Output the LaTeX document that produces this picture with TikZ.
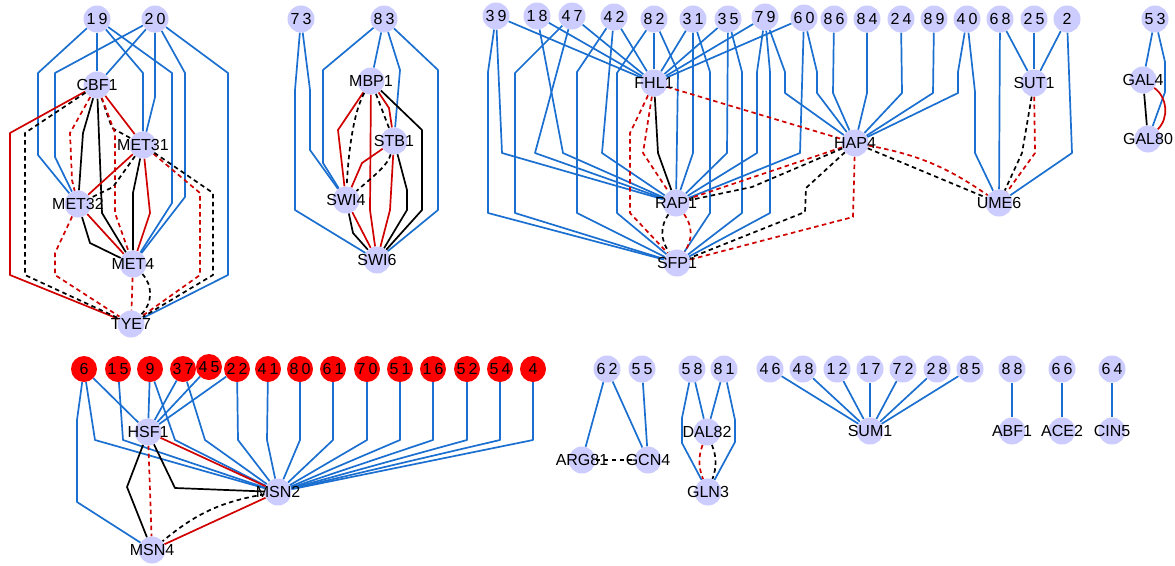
\documentclass[tikz,border=0pt]{standalone}
\usepackage{fontspec}
\setmainfont{Liberation Sans}
\newfontfamily\numfont[LetterSpace=20]{Liberation Sans}
\newcommand\nlab[1]{\makebox[0pt]{#1}}
\pgfdeclarelayer{edges}
\pgfsetlayers{edges,main}
\definecolor{lav}{HTML}{CCCCFF}
\definecolor{rnode}{HTML}{FF0000}
\definecolor{eblue}{HTML}{1A6FD0}
\definecolor{ered}{HTML}{D00000}
\tikzset{
  tf/.style={circle, fill=lav, minimum size=27pt, inner sep=0pt, font=\fontsize{16}{16}\selectfont},
  num/.style={tf, font=\numfont\fontsize{16}{16}\selectfont},
  rnum/.style={num, fill=rnode, minimum size=26pt},
  eb/.style={draw=eblue, line width=1.7pt, line join=round},
  er/.style={draw=ered, line width=1.7pt, line join=round},
  ek/.style={draw=black, line width=1.7pt, line join=round},
  erd/.style={er, dash pattern=on 4.5pt off 3.5pt},
  ekd/.style={ek, dash pattern=on 4.5pt off 3.5pt}
}
\begin{document}
\begin{tikzpicture}[x=1pt,y=-1pt]
\useasboundingbox (0,0) rectangle (1175,565);
% ---------- nodes ----------
\node[num] (n19) at (97,19) {\nlab{19}};
\node[num] (n20) at (155,19) {\nlab{20}};
\node[tf] (CBF1) at (97,85) {\nlab{CBF1}};
\node[tf] (MET31) at (143,145) {\nlab{MET31}};
\node[tf] (MET32) at (78,204) {\nlab{MET32}};
\node[tf] (MET4) at (133,264) {\nlab{MET4}};
\node[tf] (TYE7) at (131,324) {\nlab{TYE7}};
\node[num] (n73) at (301,19) {\nlab{73}};
\node[num] (n83) at (384,19) {\nlab{83}};
\node[tf] (MBP1) at (371,81) {\nlab{MBP1}};
\node[tf] (STB1) at (394,141) {\nlab{STB1}};
\node[tf] (SWI4) at (346,200) {\nlab{SWI4}};
\node[tf] (SWI6) at (377,260) {\nlab{SWI6}};
\node[num] (n39) at (496,16) {\nlab{39}};
\node[num] (n18) at (537,16) {\nlab{18}};
\node[num] (n47) at (572,16) {\nlab{47}};
\node[num] (n42) at (614,17) {\nlab{42}};
\node[num] (n82) at (654,19) {\nlab{82}};
\node[num] (n31) at (693,19) {\nlab{31}};
\node[num] (n35) at (728,19) {\nlab{35}};
\node[num] (n79) at (765,17) {\nlab{79}};
\node[num] (n60) at (804,18) {\nlab{60}};
\node[num] (n86) at (834,19) {\nlab{86}};
\node[num] (n84) at (867,19) {\nlab{84}};
\node[num] (n24) at (901,19) {\nlab{24}};
\node[num] (n89) at (934,19) {\nlab{89}};
\node[num] (n40) at (967,19) {\nlab{40}};
\node[num] (n68) at (1000,19) {\nlab{68}};
\node[num] (n25) at (1034,19) {\nlab{25}};
\node[num] (n2) at (1067,19) {\nlab{2}};
\node[num] (n53) at (1155,19) {\nlab{53}};
\node[tf] (FHL1) at (654,83) {\nlab{FHL1}};
\node[tf] (HAP4) at (855,143) {\nlab{HAP4}};
\node[tf] (RAP1) at (676,203) {\nlab{RAP1}};
\node[tf] (SFP1) at (677,263) {\nlab{SFP1}};
\node[tf] (SUT1) at (1034,83) {\nlab{SUT1}};
\node[tf] (UME6) at (999,203) {\nlab{UME6}};
\node[tf] (GAL4) at (1143,80) {\nlab{GAL4}};
\node[tf] (GAL80) at (1148,139) {\nlab{GAL80}};
% bottom
\node[rnum] (n6) at (84,369) {\nlab{6}};
\node[rnum] (n15) at (118,369) {\nlab{15}};
\node[rnum] (n9) at (150,369) {\nlab{9}};
\node[rnum] (n37) at (183,369) {\nlab{37}};
\node[rnum] (n45) at (209,367) {\nlab{45}};
\node[rnum] (n22) at (237,369) {\nlab{22}};
\node[rnum] (n41) at (268,369) {\nlab{41}};
\node[rnum] (n80) at (300,369) {\nlab{80}};
\node[rnum] (n61) at (333,369) {\nlab{61}};
\node[rnum] (n70) at (367,369) {\nlab{70}};
\node[rnum] (n51) at (400,369) {\nlab{51}};
\node[rnum] (n16) at (433,369) {\nlab{16}};
\node[rnum] (n52) at (467,369) {\nlab{52}};
\node[rnum] (n54) at (500,369) {\nlab{54}};
\node[rnum] (n4) at (533,369) {\nlab{4}};
\node[tf] (HSF1) at (148,432) {\nlab{HSF1}};
\node[tf] (MSN2) at (278,492) {\nlab{MSN2}};
\node[tf] (MSN4) at (152,550) {\nlab{MSN4}};
\node[num] (n62) at (607,369) {\nlab{62}};
\node[num] (n55) at (642,369) {\nlab{55}};
\node[num] (n58) at (692,369) {\nlab{58}};
\node[num] (n81) at (724,369) {\nlab{81}};
\node[tf] (DAL82) at (707,432) {\nlab{DAL82}};
\node[tf] (ARG81) at (582,460) {\nlab{ARG81}};
\node[tf] (GCN4) at (648,460) {\nlab{GCN4}};
\node[tf] (GLN3) at (708,492) {\nlab{GLN3}};
\node[num] (n46) at (770,369) {\nlab{46}};
\node[num] (n48) at (803,369) {\nlab{48}};
\node[num] (n12) at (837,369) {\nlab{12}};
\node[num] (n17) at (870,369) {\nlab{17}};
\node[num] (n72) at (903,369) {\nlab{72}};
\node[num] (n28) at (937,369) {\nlab{28}};
\node[num] (n85) at (970,369) {\nlab{85}};
\node[tf] (SUM1) at (870,431) {\nlab{SUM1}};
\node[num] (n88) at (1012,369) {\nlab{88}};
\node[tf] (ABF1) at (1012,431) {\nlab{ABF1}};
\node[num] (n66) at (1062,369) {\nlab{66}};
\node[tf] (ACE2) at (1062,431) {\nlab{ACE2}};
\node[num] (n64) at (1112,369) {\nlab{64}};
\node[tf] (CIN5) at (1112,431) {\nlab{CIN5}};
% ---------- edges ----------
\begin{pgfonlayer}{edges}
% left cluster
\draw[eb] (n19) -- (CBF1);
\draw[eb] (n19) -- (38,73) -- (38,155) -- (MET32);
\draw[eb] (n19) -- (143,73) -- (MET31);
\draw[eb] (n19) -- (172,73) -- (172,203) -- (MET4);
\draw[eb] (n20) -- (CBF1);
\draw[eb] (n20) -- (55,73) -- (55,157) -- (MET32);
\draw[eb] (n20) -- (155,97) -- (MET31);
\draw[eb] (n20) -- (185,73) -- (185,197) -- (MET4);
\draw[eb] (n20) -- (228,73) -- (228,275) -- (TYE7);
\draw[er] (CBF1) -- (10,133) -- (10,275) -- (TYE7);
\draw[ekd] (CBF1) -- (25,133) -- (25,275) -- (TYE7);
\draw[erd] (CBF1) -- (70,133) -- (72,180) -- (MET32);
\draw[ek] (CBF1) -- (83,133) -- (MET32);
\draw[ek] (CBF1) -- (102,213) -- (MET4);
\draw[er] (CBF1) -- (MET31);
\draw[ekd] (CBF1) -- (112,128) -- (MET31);
\draw[erd] (CBF1) -- (115,133) -- (115,213) -- (MET4);
\draw[er] (MET31) -- (MET32);
\draw[ekd] (MET31) -- (113,187) -- (MET32);
\draw[ek] (MET31) -- (133,193) -- (MET4);
\draw[er] (MET31) -- (150,213) -- (MET4);
\draw[erd] (MET31) -- (200,193) -- (200,275) -- (TYE7);
\draw[ekd] (MET31) -- (213,193) -- (213,275) -- (TYE7);
\draw[erd] (MET32) -- (55,253) -- (55,275) -- (TYE7);
\draw[ek] (MET32) -- (90,243) -- (MET4);
\draw[er] (MET32) -- (MET4);
\draw[erd] (MET4) -- (TYE7);
\draw[ekd] (MET4) to[bend left=45] (TYE7);
% middle cluster
\draw[eb] (n73) -- (310,90) -- (310,150) -- (SWI4);
\draw[eb] (n73) -- (295,90) -- (295,210) -- (SWI6);
\draw[eb] (n83) -- (323,70) -- (323,163) -- (SWI4);
\draw[eb] (n83) -- (MBP1);
\draw[eb] (n83) -- (400,70) -- (STB1);
\draw[eb] (n83) -- (438,70) -- (438,210) -- (SWI6);
\draw[er] (MBP1) -- (338,130) -- (SWI4);
\draw[ekd] (MBP1) .. controls (352,115) and (348,160) .. (SWI4);
\draw[er] (MBP1) -- (370,210) -- (SWI6);
\draw[ekd] (MBP1) -- (STB1);
\draw[er] (MBP1) -- (389,108) -- (STB1);
\draw[ek] (MBP1) -- (422,130) -- (422,210) -- (SWI6);
\draw[er] (STB1) -- (362,163) -- (SWI4);
\draw[ekd] (STB1) .. controls (388,165) and (375,175) .. (SWI4);
\draw[er] (STB1) -- (390,210) -- (SWI6);
\draw[ek] (STB1) -- (407,190) -- (407,210) -- (SWI6);
\draw[ek] (SWI4) -- (353,233) -- (SWI6);
\draw[er] (SWI4) -- (SWI6);
% big cluster
\draw[eb] (n39) -- (FHL1);
\draw[eb] (n39) -- (502,153) -- (RAP1);
\draw[eb] (n39) -- (488,72) -- (488,213) -- (SFP1);
\draw[eb] (n18) -- (FHL1);
\draw[eb] (n18) -- (563,153) -- (RAP1);
\draw[eb] (n47) -- (FHL1);
\draw[eb] (n47) -- (535,153) -- (RAP1);
\draw[eb] (n47) -- (515,73) -- (515,213) -- (SFP1);
\draw[eb] (n42) -- (FHL1);
\draw[eb] (n42) -- (602,153) -- (RAP1);
\draw[eb] (n42) -- (577,72) -- (577,213) -- (SFP1);
\draw[eb] (n82) -- (FHL1);
\draw[eb] (n82) -- (617,73) -- (617,213) -- (SFP1);
\draw[eb] (n82) -- (678,72) -- (RAP1);
\draw[eb] (n31) -- (FHL1);
\draw[eb] (n31) -- (693,153) -- (RAP1);
\draw[eb] (n31) -- (710,72) -- (710,213) -- (SFP1);
\draw[eb] (n35) -- (FHL1);
\draw[eb] (n35) -- (727,153) -- (RAP1);
\draw[eb] (n35) -- (742,72) -- (742,213) -- (SFP1);
\draw[eb] (n79) -- (FHL1);
\draw[eb] (n79) -- (757,72) -- (757,153) -- (RAP1);
\draw[eb] (n79) -- (770,72) -- (770,213) -- (SFP1);
\draw[eb] (n79) -- (785,72) -- (785,93) -- (HAP4);
\draw[eb] (n60) -- (FHL1);
\draw[eb] (n60) -- (800,153) -- (RAP1);
\draw[eb] (n60) -- (817,72) -- (817,93) -- (HAP4);
\draw[eb] (n86) -- (833,93) -- (HAP4);
\draw[eb] (n84) -- (867,93) -- (HAP4);
\draw[eb] (n24) -- (902,93) -- (HAP4);
\draw[eb] (n89) -- (933,93) -- (HAP4);
\draw[eb] (n40) -- (958,72) -- (958,93) -- (HAP4);
\draw[eb] (n40) -- (975,92) -- (975,153) -- (UME6);
\draw[eb] (n68) -- (UME6);
\draw[eb] (n68) -- (SUT1);
\draw[eb] (n25) -- (SUT1);
\draw[eb] (n2) -- (SUT1);
\draw[eb] (n2) -- (1072,153) -- (UME6);
\draw[eb] (n53) -- (GAL4);
\draw[eb] (n53) -- (1165,62) -- (1165,92) -- (GAL80);
\draw[ek] (GAL4) -- (GAL80);
\draw[er] (GAL4) to[bend left=50] (GAL80);
\draw[erd] (FHL1) -- (HAP4);
\draw[erd] (HAP4) -- (RAP1);
\draw[ekd] (HAP4) -- (752,187) -- (RAP1);
\draw[ekd] (HAP4) -- (806,188) -- (805,212) -- (SFP1);
\draw[erd] (HAP4) -- (853,217) -- (SFP1);
\draw[erd] (HAP4) to[bend left=12] (UME6);
\draw[ekd] (HAP4) -- (UME6);
\draw[ek] (FHL1) -- (658,153) -- (RAP1);
\draw[erd] (FHL1) -- (643,153) -- (RAP1);
\draw[erd] (FHL1) -- (630,133) -- (630,213) -- (SFP1);
\draw[ekd] (RAP1) to[bend right=35] (SFP1);
\draw[erd] (RAP1) to[bend left=35] (SFP1);
\draw[ekd] (SUT1) -- (1022,153) -- (UME6);
\draw[erd] (SUT1) -- (1035,153) -- (UME6);
% bottom-left cluster
\draw[eb] (n6) -- (HSF1);
\draw[eb] (n6) -- (95,440) -- (MSN2);
\draw[eb] (n6) -- (77,420) -- (77,502) -- (MSN4);
\draw[eb] (n15) -- (123,440) -- (MSN2);
\draw[eb] (n9) -- (HSF1);
\draw[eb] (n9) -- (175,440) -- (MSN2);
\draw[eb] (n37) -- (HSF1);
\draw[eb] (n37) -- (205,440) -- (MSN2);
\draw[eb] (n45) -- (HSF1);
\draw[eb] (n22) -- (HSF1);
\draw[eb] (n22) -- (238,440) -- (MSN2);
\draw[eb] (n41) -- (267,440) -- (MSN2);
\draw[eb] (n80) -- (300,440) -- (MSN2);
\draw[eb] (n61) -- (333,440) -- (MSN2);
\draw[eb] (n70) -- (367,440) -- (MSN2);
\draw[eb] (n51) -- (400,440) -- (MSN2);
\draw[eb] (n16) -- (433,440) -- (MSN2);
\draw[eb] (n52) -- (467,440) -- (MSN2);
\draw[eb] (n54) -- (500,440) -- (MSN2);
\draw[eb] (n4) -- (533,440) -- (MSN2);
\draw[er] (HSF1) -- (MSN2);
\draw[ek] (HSF1) -- (175,488) -- (MSN2);
\draw[ek] (HSF1) -- (127,487) -- (MSN4);
\draw[erd] (HSF1) -- (MSN4);
\draw[er] (MSN2) -- (MSN4);
\draw[ekd] (MSN2) to[bend right=15] (MSN4);
% small clusters
\draw[eb] (n62) -- (ARG81);
\draw[eb] (n62) -- (GCN4);
\draw[eb] (n55) -- (GCN4);
\draw[ekd] (ARG81) -- (GCN4);
\draw[eb] (n58) -- (DAL82);
\draw[eb] (n58) -- (682,418) -- (682,443) -- (GLN3);
\draw[eb] (n81) -- (DAL82);
\draw[eb] (n81) -- (735,420) -- (735,442) -- (GLN3);
\draw[erd] (DAL82) to[bend right=20] (GLN3);
\draw[ekd] (DAL82) to[bend left=20] (GLN3);
\draw[eb] (n46) -- (SUM1);
\draw[eb] (n48) -- (SUM1);
\draw[eb] (n12) -- (SUM1);
\draw[eb] (n17) -- (SUM1);
\draw[eb] (n72) -- (SUM1);
\draw[eb] (n28) -- (SUM1);
\draw[eb] (n85) -- (SUM1);
\draw[eb] (n88) -- (ABF1);
\draw[eb] (n66) -- (ACE2);
\draw[eb] (n64) -- (CIN5);
\end{pgfonlayer}
\end{tikzpicture}
\end{document}
